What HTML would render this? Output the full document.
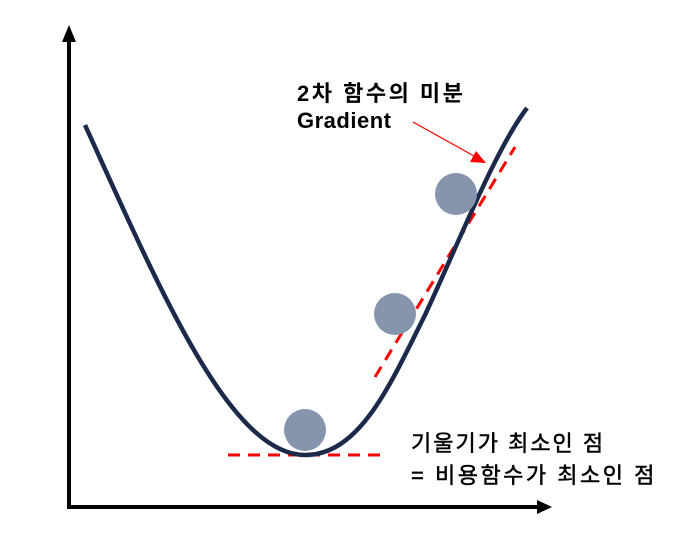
<!DOCTYPE html>
<html><head><meta charset="utf-8"><style>
html,body{margin:0;padding:0;background:#fff;}
svg{display:block;}
text{font-family:"Liberation Sans","Noto Sans CJK KR",sans-serif;}
</style></head><body>
<svg width="685" height="558" viewBox="0 0 685 558">
  <g>
    <line x1="69" y1="507" x2="69" y2="40" stroke="#000" stroke-width="4"/>
    <polygon points="62,42 76,42 69,25" fill="#000"/>
  </g>
  <g>
    <line x1="67" y1="507" x2="540" y2="507" stroke="#000" stroke-width="4"/>
    <polygon points="537,500 537,514 552,507" fill="#000"/>
  </g>
  <line x1="228" y1="455" x2="385" y2="455" stroke="#f00" stroke-width="3" stroke-dasharray="12,8"/>
  <line x1="375" y1="377" x2="515" y2="147" stroke="#f00" stroke-width="3" stroke-dasharray="12,8"/>
  <path d="M85,125 C160,290 230,455 305,455 C360,455 390,385 425,315 C460,240 495,150 527,108" fill="none" stroke="#1b2a4a" stroke-width="4.5"/>
  <circle cx="305" cy="430" r="21" fill="#8595ae"/>
  <circle cx="395" cy="314" r="21" fill="#8595ae"/>
  <circle cx="456" cy="194" r="21" fill="#8595ae"/>
  <g>
    <line x1="413" y1="122" x2="474" y2="156" stroke="#f00" stroke-width="1.2"/>
    <polygon points="486,163 470,162 476,151" fill="#f00"/>
  </g>
  <text x="297" y="101" font-size="22" font-weight="bold" letter-spacing="2.5" fill="#000">2차 함수의 미분</text>
  <text x="297" y="128" font-size="22" font-weight="bold" letter-spacing="0.5" fill="#000">Gradient</text>
  <text x="411" y="451" font-size="22" letter-spacing="2" fill="#000" stroke="#000" stroke-width="0.5">기울기가 최소인 점</text>
  <text x="411" y="483" font-size="22" letter-spacing="2.5" fill="#000" stroke="#000" stroke-width="0.5">= 비용함수가 최소인 점</text>
</svg>
</body></html>
